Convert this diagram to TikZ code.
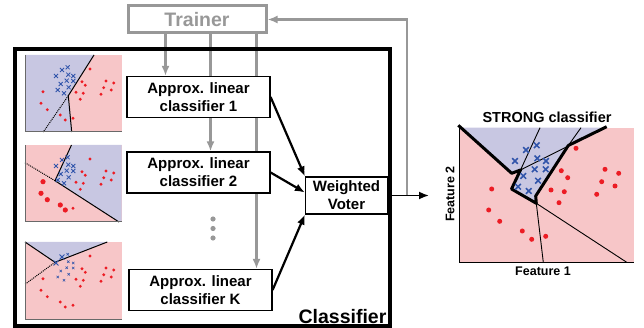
\documentclass[tikz,border=0pt]{standalone}
\usepackage{fontspec}
\setmainfont{Liberation Sans}
\usetikzlibrary{arrows.meta,backgrounds,positioning}
\definecolor{TrainGray}{RGB}{152,152,152}
\definecolor{RegionPink}{RGB}{247,198,200}
\definecolor{RegionBlue}{RGB}{200,199,226}
\definecolor{PointRed}{RGB}{236,28,36}
\definecolor{PointBlue}{RGB}{48,84,170}
\definecolor{AxisGray}{RGB}{105,105,105}
% toy data set, x absolute, y from the top of each small plot
\newcommand{\crosspts}{67.7/12.3, 62/15, 56/21, 68.3/19.7, 73.3/21, 60.7/29,
  66.7/25.7, 73.3/26, 68.7/32.3, 57.7/35, 64/38.3}
\newcommand{\dotpts}{90/14, 82/26.7, 85.3/30.3, 106/26, 113.7/28, 103.7/32.7,
  111.3/35, 76/37.3, 83.3/38.3, 101/39.3, 80.3/44.3, 43/36.7, 41/48.3,
  47.3/54.7, 60.3/60, 65.3/65, 73/63.3}
\tikzset{
  frame/.style={
    draw,
    line width=3.2pt,
    minimum width=375,
    minimum height=277
  },
  trainerbox/.style={
    draw=TrainGray,
    line width=3pt,
    minimum width=138,
    minimum height=27,
    text=TrainGray,
    font=\fontsize{19.5}{22}\selectfont\bfseries
  },
  box/.style={
    draw,
    line width=1.2pt,
    fill=white,
    align=center,
    minimum width=143,
    minimum height=41,
    inner sep=1pt,
    font=\fontsize{15}{18}\selectfont\bfseries
  },
  biglabel/.style={
    font=\fontsize{19.5}{22}\selectfont\bfseries,
    inner sep=0pt
  },
  plotlabel/.style={
    font=\fontsize{12.5}{14}\selectfont\bfseries,
    inner sep=0pt
  },
  arrow/.style={-{Latex[length=10pt,width=8pt]},line width=2.2pt},
  feed/.style={-{Latex[length=10pt,width=8pt]},line width=2.3pt,draw=TrainGray},
  split/.style={line width=1pt},
  axis/.style={line width=1pt,draw=AxisGray},
  xmark/.pic={\draw[PointBlue] (-2,-2) -- (2,2) (-2,2) -- (2,-2);}
}

\begin{document}
\begin{tikzpicture}[x=1pt,y=-1pt,node distance=10 and 20]
\useasboundingbox (0,0) rectangle (644,328);

\node[trainerbox] (trainer) at (197,19.5) {Trainer};
\node[frame] (frame) at (202.5,187.5) {};
\node[biglabel,anchor=south east] (framelabel) at ([xshift=-5pt,yshift=4pt]frame.south east) {Classifier};

\node[box] (cls1) at (198.5,97) {Approx. linear\\classifier 1};
\node[box] (cls2) at (198.5,172.5) {Approx. linear\\classifier 2};
\node[box] (clsK) at (200.5,290) {Approx. linear\\classifier K};
\node[box,minimum width=82,minimum height=37] (voter) at (346.5,195.5) {Weighted\\Voter};

\coordinate (tr1) at ([xshift=39pt]trainer.south west);
\coordinate (tr2) at ([xshift=84pt]trainer.south west);
\coordinate (tr3) at ([xshift=130pt]trainer.south west);
\coordinate (out) at (429,195.5);
\coordinate (fb) at (407,195.5);

\fill[TrainGray] (213,219) circle[radius=2.6] (213,228.5) circle[radius=2.6] (213,238) circle[radius=2.6];

% weak learner 1
\begin{scope}[shift={(0,55)}]
  \fill[RegionPink] (25,0) rectangle (121.7,77);
  \fill[RegionBlue] (25,0) -- (94,0) -- (68.3,40.7) -- (71.7,77) -- (25,77) -- cycle;
  \draw[split] (94,0) -- (68.3,40.7) -- (71.7,77);
  \draw[split,densely dotted] (68.3,40.7) -- (43.3,77);
  \draw[axis] (25,0) -- (25,77) -- (121.7,77);
  \foreach \px/\py in \crosspts {\pic[line width=0.8pt] at (\px,\py) {xmark};}
  \foreach \px/\py in \dotpts {\fill[PointRed] (\px,\py) circle[radius=1.6];}
\end{scope}

% weak learner 2, missed points weighted up
\begin{scope}[shift={(0,145)}]
  \fill[RegionPink] (25,0) rectangle (121.7,77);
  \fill[RegionBlue] (71.5,0) -- (121.7,0) -- (121.7,77) -- (119,77) -- (55,35.7) -- cycle;
  \draw[split] (71.5,0) -- (55,35.7) -- (119,77);
  \draw[split,densely dotted] (55,35.7) -- (25,17.7);
  \draw[axis] (25,0) -- (25,77) -- (121.7,77);
  \foreach \px/\py in \crosspts {\pic[line width=0.8pt] at (\px,\py) {xmark};}
  \foreach \px/\py in \dotpts {\fill[PointRed] (\px,\py) circle[radius=1.6];}
  \foreach \px/\py in {43/36.7, 41/48.3, 47.3/54.7, 60.3/60, 65.3/65}
    {\fill[PointRed] (\px,\py) circle[radius=2.6];}
\end{scope}

% weak learner K
\begin{scope}[shift={(0,242)}]
  \fill[RegionPink] (25,0) rectangle (121.7,77);
  \fill[RegionBlue] (25,0) -- (107.3,0) -- (55,20.3) -- cycle;
  \draw[split] (25,0) -- (55,20.3) -- (107.3,0);
  \draw[split,densely dotted] (55,20.3) -- (25,42.3);
  \draw[axis] (25,0) -- (25,77) -- (121.7,77);
  \foreach \px/\py in \crosspts {\pic[line width=0.6pt,scale=0.6] at (\px,\py) {xmark};}
  \foreach \px/\py in {62/15, 56/21} {\pic[line width=1pt,scale=1.2] at (\px,\py) {xmark};}
  \foreach \px/\py in \dotpts {\fill[PointRed] (\px,\py) circle[radius=1.6];}
\end{scope}

% combined decision regions
\fill[RegionPink] (459.3,127.7) rectangle (634.3,262.3);
\fill[RegionBlue] (461,127.7) -- (511.7,173.3) -- (520.5,170) -- (511.5,189) -- (536.3,203.3)
  -- (535.7,196) -- (568.3,145.5) -- (604.5,127.7) -- cycle;
\draw[line width=0.9pt] (540,127.7) -- (520.5,170) (581,127.7) -- (568.3,145.5)
  (520.5,170) -- (568.3,146) (536.3,203.3) -- (543.3,262.3) (536.3,203.3) -- (626.7,262.3);
\draw[line width=3pt,line join=round] (458.3,125.3) -- (511.7,173.3) -- (520.5,170) -- (511.5,189)
  -- (536.3,203.3) -- (535.7,196) -- (568.3,145.5) -- (606.7,126.7);
\draw[line width=1.2pt] (459.3,127.7) -- (459.3,262.3) -- (634.3,262.3);
\foreach \px/\py in {526/150, 536.7/145.3, 515/161, 537.3/158.3, 546/161, 534.7/169.3,
  545.7/169.3, 523.3/176, 538/180.7, 518/186.7, 528.7/191}
  {\pic[line width=1.5pt,scale=1.4] at (\px,\py) {xmark};}
\foreach \px/\py in {576/148.3, 561.3/170.7, 567.7/177.7, 605/169.3, 618.7/173.3, 601.7/181.7,
  615/186, 551/190, 564.3/191.7, 596.7/194.3, 559/202.7, 491.7/189, 488.7/210, 499.7/221.3,
  522.3/231, 531.7/239.3, 545.7/236.3}
  {\fill[PointRed] (\px,\py) circle[radius=2.5];}
\node[font=\fontsize{14.5}{16}\selectfont\bfseries,inner sep=0pt] (strong) at (547,117) {STRONG classifier};
\node[plotlabel] (feat1) at (543,271) {Feature 1};
\node[plotlabel,rotate=90] (feat2) at (450,194) {Feature 2};

\draw[arrow] (cls1.east) -- (voter.north west);
\draw[arrow] (cls2.east) -- ([yshift=3pt]voter.west);
\draw[arrow] (clsK.east) -- (voter.south west);
\draw[-{Latex[length=10pt,width=8pt]},line width=1.8pt] (voter.east) -- (out);

\begin{pgfonlayer}{background}
  \draw[feed] (tr1) -- (tr1 |- cls1.north);
  \draw[feed] (tr2) -- (tr2 |- cls2.north);
  \draw[feed] (tr3) -- (tr3 |- clsK.north);
  \draw[feed] (fb) |- (trainer.east);
\end{pgfonlayer}

\end{tikzpicture}
\end{document}
